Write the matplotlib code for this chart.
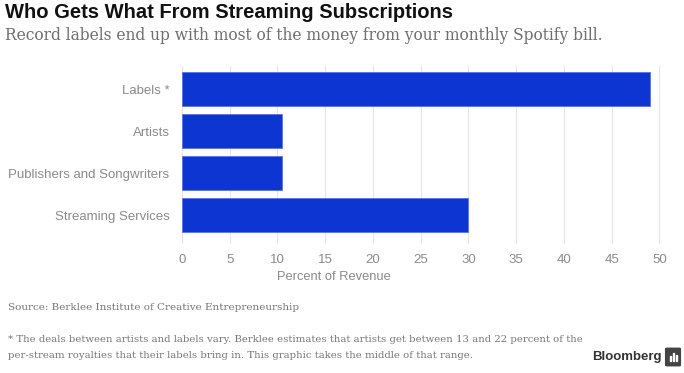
import matplotlib.pyplot as plt
from matplotlib.patches import FancyBboxPatch, Rectangle

categories = ["Labels *", "Artists", "Publishers and Songwriters", "Streaming Services"]
values = [49, 10.5, 10.5, 30]
xticks = [0, 5, 10, 15, 20, 25, 30, 35, 40, 45, 50]

W, H = 684, 373
fig = plt.figure(figsize=(W / 100, H / 100), dpi=100)
ax = fig.add_axes([182 / W, 1 - 244 / H, 487 / W, 178 / H])

y = list(range(len(categories)))
ax.barh(y, values, height=0.81, color="#0c35d2", edgecolor="#5a73e6", linewidth=0.6, zorder=3)
ax.set_ylim(3.69, -0.55)
ax.set_xlim(0, 51)
ax.set_xticks(xticks)
ax.set_xticklabels([str(t) for t in xticks])
ax.set_yticks(y)
ax.set_yticklabels(categories)
ax.grid(axis="x", color="#e6e6e6", linewidth=0.8, zorder=0)
for s in ax.spines.values():
    s.set_visible(False)
ax.tick_params(axis="both", length=0, colors="#8a8a8a")
ax.tick_params(axis="x", pad=7, labelsize=9.5)
ax.tick_params(axis="y", pad=9, labelsize=9.5)
for lab in ax.get_xticklabels() + ax.get_yticklabels():
    lab.set_color("#8a8a8a")
    lab.set_family("Liberation Sans")
ax.set_xlabel("Percent of Revenue", color="#8a8a8a", fontsize=9.3, family="Liberation Sans", va="center")
ax.xaxis.set_label_coords((334 - 182) / 487, -33 / 178)

fig.text(5 / W, 1 - 12 / H, "Who Gets What From Streaming Subscriptions",
         fontsize=14.5, fontweight="bold", family="Liberation Sans", color="#111111", va="center")
fig.text(5 / W, 1 - 35 / H, "Record labels end up with most of the money from your monthly Spotify bill.",
         fontsize=11.2, family="DejaVu Serif", color="#6e6e6e", va="center")
fig.text(8 / W, 1 - 308 / H, "Source: Berklee Institute of Creative Entrepreneurship",
         fontsize=7.5, family="DejaVu Serif", color="#777777", va="center")
fig.text(8 / W, 1 - 340 / H, "* The deals between artists and labels vary. Berklee estimates that artists get between 13 and 22 percent of the",
         fontsize=7.3, family="DejaVu Serif", color="#777777", va="center")
fig.text(8 / W, 1 - 356 / H, "per-stream royalties that their labels bring in. This graphic takes the middle of that range.",
         fontsize=7.3, family="DejaVu Serif", color="#777777", va="center")
fig.text(662 / W, 1 - 357 / H, "Bloomberg", fontsize=9.5, fontweight="bold",
         family="Liberation Sans", color="#333333", va="center", ha="right")
logo = FancyBboxPatch((667 / W, 1 - 365 / H), 12 / W, 16 / H, boxstyle="round,pad=0.002",
                      transform=fig.transFigure, color="#444444")
fig.patches.append(logo)
# little bar-chart glyph inside the logo
for i, h in enumerate([5, 8, 6]):
    fig.patches.append(Rectangle(((669.5 + i * 3) / W, 1 - 361 / H), 1.6 / W, h / H,
                                 transform=fig.transFigure, color="white"))

fig.savefig("out.png", dpi=100)
